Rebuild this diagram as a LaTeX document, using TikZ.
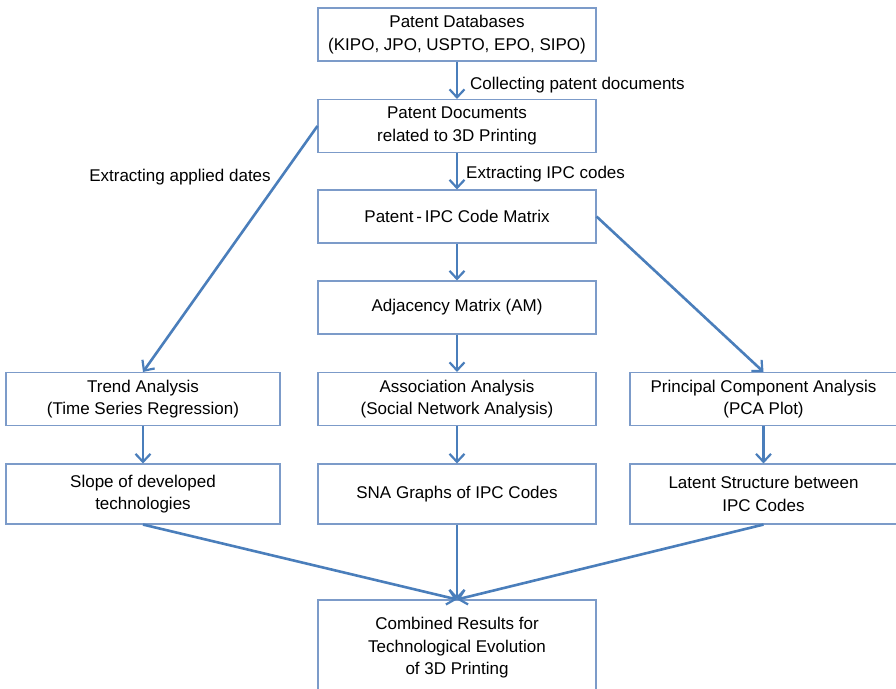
\documentclass[tikz,border=0pt]{standalone}
\usepackage{fontspec}
\setmainfont{Liberation Sans}
\usetikzlibrary{arrows.meta}
\definecolor{flowblue}{HTML}{4A7EBB}
\definecolor{boxedge}{HTML}{7C9BC9}
\begin{document}
\begin{tikzpicture}[x=1pt,y=-1pt,
  box/.style={draw=boxedge,line width=1.1pt,fill=white,rectangle,inner sep=0pt,
    minimum height=#1,align=center,font=\fontsize{17}{22.5}\selectfont},
  box/.default=53pt,
  flow/.style={draw=flowblue,line width=2.6pt,
    -{Straight Barb[length=8pt,width=15pt,line width=2.2pt]}},
  note/.style={font=\fontsize{17}{22.5}\selectfont,inner sep=0pt}]
\useasboundingbox (0,0) rectangle (896,688);
\fill[white] (0,0) rectangle (896,688);

% central column
\node[box,minimum width=278pt] (db)  at (457,34.5) {Patent Databases\\(KIPO, JPO, USPTO, EPO, SIPO)};
\node[box,minimum width=278pt] (doc) at (457,126)  {Patent Documents\\related to 3D Printing};
\node[box,minimum width=278pt] (ipc) at (457,216.5) {Patent\,-\,IPC Code Matrix};
\node[box,minimum width=278pt] (am)  at (457,307.5) {Adjacency Matrix (AM)};

% analysis row
\node[box,minimum width=274pt] (trend) at (143,399) {Trend Analysis\\(Time Series Regression)};
\node[box,minimum width=278pt] (assoc) at (457,399) {Association Analysis\\(Social Network Analysis)};
\node[box,minimum width=267pt] (pca)   at (763.5,399) {Principal Component Analysis\\(PCA Plot)};

% result row
\node[box=60pt,minimum width=274pt] (slope)  at (143,494) {Slope of developed\\technologies};
\node[box=60pt,minimum width=278pt] (sna)    at (457,494) {SNA Graphs of IPC Codes};
\node[box=60pt,minimum width=267pt] (latent) at (763.5,494) {Latent Structure between\\IPC Codes};

% combined results
\node[box=96pt,minimum width=278pt] (comb) at (457,648) {Combined Results for\\Technological Evolution\\of 3D Printing};

% connectors
\draw[flow] (db.south) -- (doc.north);
\draw[flow] (doc.south) -- (ipc.north);
\draw[flow] (ipc.south) -- (am.north);
\draw[flow] (am.south) -- (assoc.north);
\draw[flow] (doc.west) -- (trend.north);
\draw[flow] (ipc.east) -- (pca.north);
\draw[flow] (trend.south) -- (slope.north);
\draw[flow] (assoc.south) -- (sna.north);
\draw[flow] (pca.south) -- (latent.north);
\draw[flow] (slope.south) -- (comb.north);
\draw[flow] (sna.south) -- (comb.north);
\draw[flow] (latent.south) -- (comb.north);

% connector labels
\node[note,anchor=west] (lcollect) at (470,85) {Collecting patent documents};
\node[note,anchor=west] (lextract) at (466,174) {Extracting IPC codes};
\node[note] (ldates) at (180,177) {Extracting applied dates};
\end{tikzpicture}
\end{document}
